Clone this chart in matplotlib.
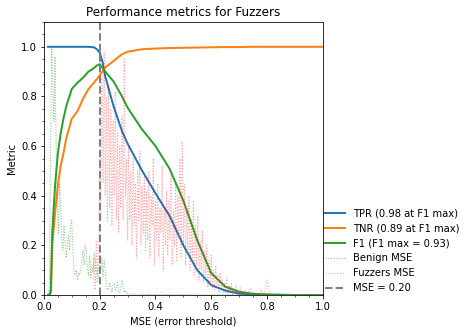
import matplotlib
matplotlib.use("Agg")
from matplotlib import pyplot as plt

# threshold grid for the metric curves
thr = [0.015, 0.02, 0.025, 0.03, 0.04, 0.05, 0.06, 0.07, 0.08, 0.10, 0.12, 0.14,
       0.16, 0.18, 0.19, 0.20, 0.21, 0.22, 0.25, 0.28, 0.30, 0.35, 0.40, 0.45,
       0.50, 0.55, 0.60, 0.65, 0.70, 0.75, 0.80, 0.90, 1.00]
tpr = [1.0, 1.0, 1.0, 1.0, 1.0, 1.0, 1.0, 1.0, 1.0, 1.0, 1.0, 1.0,
       1.0, 0.998, 0.99, 0.977, 0.94, 0.88, 0.76, 0.66, 0.61, 0.505, 0.41, 0.32,
       0.20, 0.10, 0.04, 0.018, 0.006, 0.002, 0.001, 0.0, 0.0]
tnr = [0.0, 0.0, 0.01, 0.2, 0.33, 0.44, 0.52, 0.57, 0.63, 0.71, 0.74, 0.79,
       0.83, 0.856, 0.87, 0.885, 0.90, 0.917, 0.943, 0.97, 0.98, 0.99, 0.993, 0.995,
       0.996, 0.997, 0.998, 0.999, 0.999, 1.0, 1.0, 1.0, 1.0]
f1 = [0.0, 0.0, 0.02, 0.25, 0.44, 0.57, 0.65, 0.71, 0.76, 0.83, 0.855, 0.875,
      0.90, 0.915, 0.925, 0.93, 0.915, 0.90, 0.86, 0.80, 0.755, 0.67, 0.60, 0.51,
      0.38, 0.22, 0.088, 0.034, 0.013, 0.005, 0.002, 0.0, 0.0]

# normalised MSE histogram of benign traffic
benign_x = [0.012, 0.016, 0.020, 0.024, 0.028, 0.032, 0.036, 0.040, 0.044, 0.048,
            0.052, 0.056, 0.060, 0.064, 0.068, 0.072, 0.076, 0.080, 0.084, 0.088,
            0.092, 0.096, 0.100, 0.104, 0.108, 0.112, 0.116, 0.120, 0.124, 0.128,
            0.132, 0.136, 0.140, 0.144, 0.148, 0.152, 0.156, 0.160, 0.164, 0.168,
            0.172, 0.176, 0.180, 0.184, 0.188, 0.192, 0.196, 0.200, 0.204, 0.208,
            0.212, 0.216, 0.220, 0.224, 0.228, 0.232, 0.236, 0.240, 0.244, 0.248,
            0.252, 0.256, 0.260, 0.264, 0.268, 0.272, 0.276, 0.280, 0.284, 0.288,
            0.292, 0.296, 0.300, 0.320, 0.400, 0.600, 1.000]
benign_y = [0.0, 0.0, 0.05, 0.60, 1.00, 0.85, 0.70, 0.96, 0.60, 0.40,
            0.25, 0.45, 0.35, 0.22, 0.18, 0.28, 0.22, 0.15, 0.20, 0.24,
            0.18, 0.28, 0.30, 0.18, 0.10, 0.08, 0.10, 0.06, 0.09, 0.08,
            0.10, 0.14, 0.18, 0.12, 0.20, 0.18, 0.10, 0.08, 0.16, 0.07,
            0.12, 0.09, 0.17, 0.14, 0.10, 0.05, 0.08, 0.16, 0.10, 0.15,
            0.07, 0.14, 0.10, 0.04, 0.02, 0.03, 0.05, 0.03, 0.01, 0.04,
            0.05, 0.02, 0.03, 0.05, 0.02, 0.01, 0.03, 0.06, 0.03, 0.01,
            0.02, 0.01, 0.005, 0.003, 0.002, 0.001, 0.0]

# normalised MSE histogram of Fuzzers traffic
fuzz_x = [0.176, 0.180, 0.184, 0.188, 0.192, 0.196, 0.200, 0.204, 0.208, 0.212,
          0.216, 0.220, 0.224, 0.228, 0.232, 0.236, 0.240, 0.244, 0.248, 0.252,
          0.256, 0.260, 0.264, 0.268, 0.272, 0.276, 0.280, 0.284, 0.288, 0.292,
          0.296, 0.300, 0.304, 0.308, 0.312, 0.316, 0.320, 0.324, 0.328, 0.332,
          0.336, 0.340, 0.344, 0.348, 0.352, 0.356, 0.360, 0.364, 0.368, 0.372,
          0.376, 0.380, 0.384, 0.388, 0.392, 0.396, 0.400, 0.404, 0.408, 0.412,
          0.416, 0.420, 0.424, 0.428, 0.432, 0.436, 0.440, 0.444, 0.448, 0.452,
          0.456, 0.460, 0.464, 0.468, 0.472, 0.476, 0.480, 0.484, 0.488, 0.492,
          0.496, 0.500, 0.504, 0.508, 0.512, 0.516, 0.520, 0.524, 0.528, 0.532,
          0.536, 0.540, 0.544, 0.548, 0.552, 0.556, 0.560, 0.564, 0.568, 0.572,
          0.576, 0.580, 0.584, 0.588, 0.592, 0.596, 0.600, 0.604, 0.608, 0.612,
          0.616, 0.620, 0.624, 0.628, 0.632, 0.636, 0.640, 0.644, 0.648, 0.652,
          0.656, 0.660, 0.664, 0.668, 0.672, 0.676, 0.680, 0.684, 0.688, 0.692,
          0.696, 0.700, 0.704, 0.710, 0.720, 0.730, 0.740, 0.750, 0.760, 0.770,
          0.780, 0.790, 0.800, 0.810]
fuzz_y = [0.05, 0.15, 0.02, 0.22, 0.08, 0.18, 0.55, 0.30, 0.88, 0.45,
          0.98, 0.40, 0.80, 0.30, 0.85, 0.35, 0.75, 0.28, 0.70, 0.40,
          0.82, 0.30, 0.66, 0.25, 0.60, 0.35, 0.72, 0.30, 0.95, 0.40,
          0.55, 0.22, 0.60, 0.30, 0.50, 0.20, 0.55, 0.28, 0.45, 0.15,
          0.50, 0.30, 0.58, 0.20, 0.44, 0.25, 0.48, 0.18, 0.42, 0.22,
          0.50, 0.15, 0.40, 0.28, 0.55, 0.12, 0.38, 0.22, 0.45, 0.15,
          0.35, 0.25, 0.52, 0.10, 0.35, 0.20, 0.42, 0.16, 0.38, 0.22,
          0.48, 0.12, 0.34, 0.20, 0.45, 0.14, 0.40, 0.25, 0.55, 0.15,
          0.62, 0.20, 0.45, 0.12, 0.35, 0.18, 0.40, 0.10, 0.30, 0.15,
          0.38, 0.08, 0.28, 0.12, 0.32, 0.06, 0.22, 0.10, 0.26, 0.05,
          0.18, 0.08, 0.20, 0.03, 0.14, 0.05, 0.16, 0.03, 0.10, 0.02,
          0.12, 0.04, 0.08, 0.01, 0.09, 0.02, 0.06, 0.01, 0.05, 0.01,
          0.07, 0.00, 0.04, 0.01, 0.05, 0.00, 0.03, 0.01, 0.04, 0.00,
          0.02, 0.00, 0.03, 0.00, 0.02, 0.00, 0.03, 0.00, 0.01, 0.00,
          0.02, 0.00, 0.06, 0.00]

best_thr = 0.20
tpr_best, tnr_best, f1_best = 0.98, 0.89, 0.93

fig = plt.figure(figsize=(472 / 72, 333 / 72), dpi=72)
ax = fig.add_axes([0.093, 0.114, 0.591, 0.82])

ax.plot(thr, tpr, color="tab:blue", lw=2, label=f"TPR ({tpr_best:.2f} at F1 max)")
ax.plot(thr, tnr, color="tab:orange", lw=2, label=f"TNR ({tnr_best:.2f} at F1 max)")
ax.plot(thr, f1, color="tab:green", lw=2, label=f"F1 (F1 max = {f1_best:.2f})")
ax.plot(benign_x, benign_y, color="tab:green", ls=":", lw=1, alpha=0.6, label="Benign MSE")
ax.plot(fuzz_x, fuzz_y, color="red", ls=":", lw=1.1, alpha=0.35, label="Fuzzers MSE")
ax.axvline(best_thr, color="gray", ls="--", lw=2, label=f"MSE = {best_thr:.2f}")

ax.set_xlim(0, 1)
ax.set_ylim(0, 1.1)
ax.minorticks_on()
ax.set_title("Performance metrics for Fuzzers")
ax.set_xlabel("MSE (error threshold)")
ax.set_ylabel("Metric")
ax.legend(loc="lower left", bbox_to_anchor=(1, 0), frameon=False,
          borderaxespad=0.0, borderpad=0.2)

fig.savefig("out.png", dpi=72)
